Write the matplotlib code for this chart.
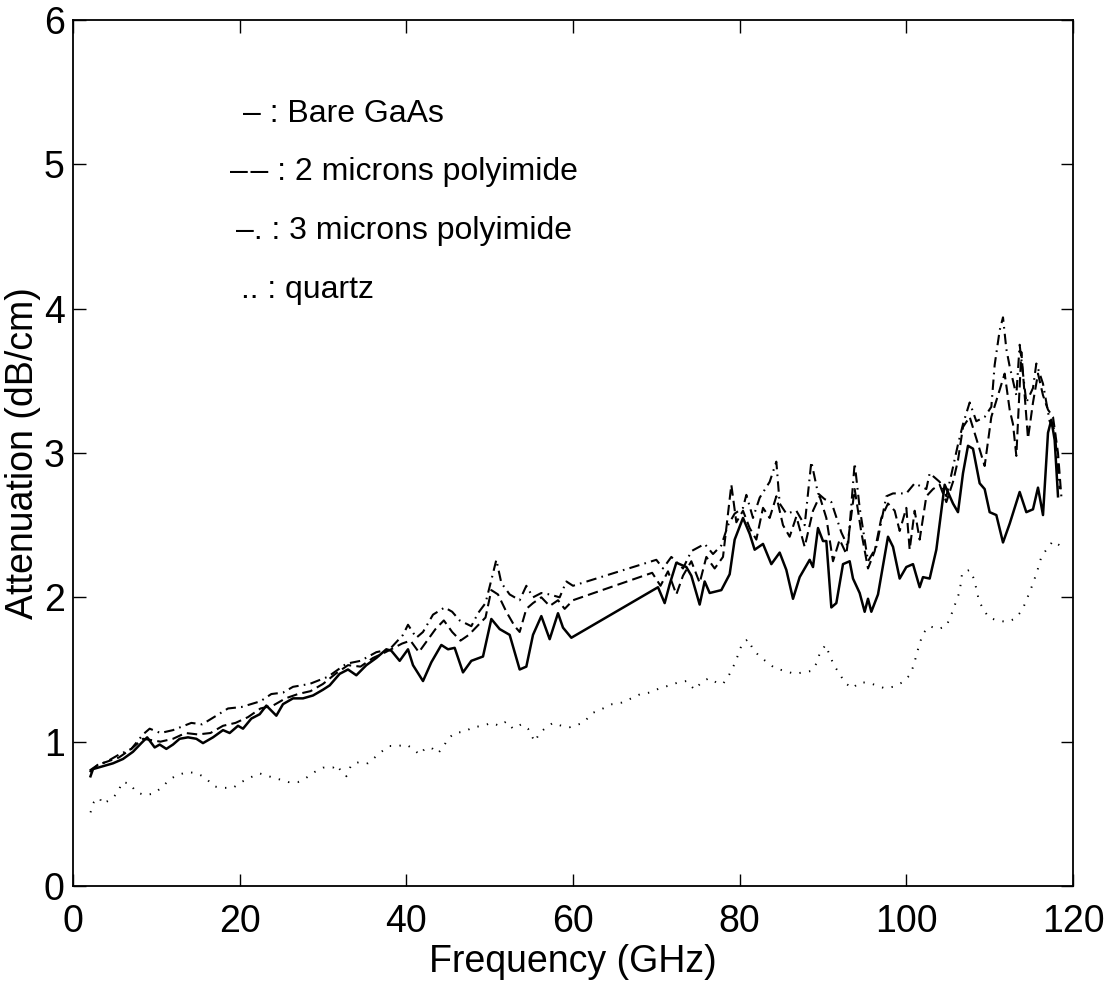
import matplotlib
matplotlib.use("Agg")
import matplotlib.pyplot as plt

plt.rcParams["font.family"] = ["Liberation Sans", "DejaVu Sans"]

# ---- data ----
# bare GaAs (solid)
f_gaas = [2.1, 2.4, 3.6, 4.8, 6.0, 7.2, 8.2, 8.9, 9.8, 10.4, 11.2, 12.0, 12.8, 13.8,
          14.8, 15.6, 16.8, 18.0, 18.8, 19.8, 20.4, 21.4, 22.4, 23.2, 24.4, 25.2,
          26.4, 27.6, 28.8, 30.0, 30.8, 32.0, 33.0, 34.0, 35.2, 36.4, 37.6, 38.2,
          39.2, 40.2, 40.8, 42.0, 43.0, 44.2, 45.0, 45.8, 46.8, 47.8, 49.2, 50.2,
          51.2, 52.4, 53.6, 54.4, 55.2, 56.2, 57.2, 58.2, 58.8, 59.8, 70.2, 71.0,
          71.6, 72.4, 73.6, 74.2, 75.2, 75.8, 76.4, 77.8, 78.8, 79.4, 80.4, 81.2,
          81.8, 82.8, 83.8, 84.8, 85.6, 86.4, 87.2, 88.4, 88.8, 89.4, 90.0, 90.4,
          91.0, 91.6, 92.4, 93.2, 93.6, 94.4, 95.0, 95.4, 95.8, 96.6, 97.8, 98.4,
          99.2, 100.0, 100.8, 101.6, 102.0, 102.8, 103.6, 104.6, 105.6, 106.2,
          106.8, 107.4, 108.0, 108.8, 109.4, 110.0, 110.8, 111.6, 112.4, 113.6,
          114.4, 115.2, 115.8, 116.4, 117.0, 117.4, 117.8, 118.2]
a_gaas = [0.76, 0.81, 0.83, 0.85, 0.88, 0.93, 0.99, 1.03, 0.96, 0.98, 0.95, 0.98,
          1.02, 1.03, 1.02, 0.99, 1.03, 1.08, 1.06, 1.11, 1.09, 1.16, 1.19, 1.25,
          1.18, 1.26, 1.30, 1.30, 1.32, 1.36, 1.39, 1.47, 1.50, 1.46, 1.53, 1.58,
          1.64, 1.63, 1.56, 1.64, 1.53, 1.42, 1.55, 1.67, 1.64, 1.65, 1.48, 1.56,
          1.59, 1.85, 1.78, 1.74, 1.50, 1.52, 1.74, 1.87, 1.71, 1.89, 1.79, 1.72,
          2.07, 1.96, 2.09, 2.24, 2.21, 2.15, 1.95, 2.11, 2.03, 2.05, 2.16, 2.40,
          2.55, 2.44, 2.33, 2.37, 2.23, 2.31, 2.19, 1.99, 2.14, 2.26, 2.21, 2.48,
          2.39, 2.39, 1.93, 1.96, 2.23, 2.25, 2.13, 2.03, 1.90, 1.99, 1.90, 2.02,
          2.42, 2.35, 2.13, 2.21, 2.23, 2.07, 2.14, 2.13, 2.33, 2.78, 2.65, 2.59,
          2.86, 3.05, 3.03, 2.79, 2.75, 2.59, 2.57, 2.38, 2.51, 2.73, 2.59, 2.61,
          2.76, 2.57, 3.14, 3.23, 3.09, 2.70]

# 2 microns polyimide (dashed)
f_pi2 = [2.0, 3.0, 4.0, 5.5, 7.0, 8.4, 9.5, 10.5, 12.0, 13.5, 15.0, 16.5, 18.0,
         19.5, 21.0, 22.5, 24.0, 25.5, 27.0, 28.5, 30.0, 31.5, 33.0, 34.5, 36.0,
         37.5, 38.5, 39.5, 40.5, 41.5, 42.5, 43.5, 44.5, 45.5, 46.5, 47.5, 48.5,
         49.5, 50.2, 51.0, 52.0, 53.0, 53.6, 54.4, 55.2, 56.2, 57.2, 58.2, 59.0,
         60.0, 69.5, 70.5, 71.4, 72.4, 73.2, 74.2, 75.2, 76.0, 77.0, 78.0, 79.0,
         79.6, 80.4, 81.2, 82.0, 82.8, 83.6, 84.4, 85.2, 86.0, 86.8, 87.8, 88.8,
         89.6, 90.4, 91.2, 92.0, 92.8, 93.8, 94.6, 95.4, 96.2, 97.0, 97.8, 98.6,
         99.2, 100.0, 100.4, 101.0, 101.6, 102.4, 103.2, 104.0, 104.8, 105.6,
         106.2, 106.8, 107.6, 108.4, 109.4, 110.2, 111.0, 111.8, 112.4, 112.8,
         113.2, 113.8, 114.6, 115.2, 115.8, 116.4, 117.0, 117.6, 118.2, 118.6]
a_pi2 = [0.79, 0.84, 0.86, 0.89, 0.95, 1.02, 1.01, 1.00, 1.02, 1.06, 1.05, 1.06,
         1.11, 1.13, 1.17, 1.23, 1.25, 1.30, 1.33, 1.35, 1.40, 1.47, 1.53, 1.52,
         1.58, 1.62, 1.65, 1.68, 1.70, 1.62, 1.70, 1.78, 1.84, 1.76, 1.70, 1.74,
         1.80, 1.86, 2.05, 2.02, 1.90, 1.80, 1.76, 1.92, 1.96, 2.00, 1.94, 1.98,
         1.92, 1.98, 2.17, 2.08, 2.18, 2.02, 2.15, 2.25, 2.10, 2.28, 2.20, 2.28,
         2.78, 2.52, 2.60, 2.48, 2.40, 2.62, 2.55, 2.70, 2.50, 2.42, 2.56, 2.35,
         2.60, 2.70, 2.55, 2.25, 2.40, 2.30, 2.75, 2.45, 2.20, 2.32, 2.55, 2.65,
         2.60, 2.46, 2.62, 2.33, 2.60, 2.40, 2.70, 2.75, 2.78, 2.66, 2.80, 2.95,
         3.18, 3.25, 3.10, 2.91, 3.25, 3.40, 3.55, 3.30, 3.20, 2.98, 3.70, 3.10,
         3.35, 3.55, 3.40, 3.30, 3.25, 3.00, 2.70]

# 3 microns polyimide (dash-dot)
f_pi3 = [2.0, 3.0, 4.0, 5.5, 7.0, 8.4, 9.2, 10.5, 12.0, 14.2, 15.5, 17.2, 18.6,
         20.2, 22.5, 23.8, 25.2, 26.4, 28.4, 30.6, 32.8, 34.5, 36.4, 38.0, 39.6,
         40.2, 41.2, 42.0, 43.2, 44.6, 45.5, 46.4, 47.8, 48.6, 49.5, 50.2, 50.8,
         51.4, 52.4, 53.6, 54.4, 55.2, 56.2, 57.2, 58.4, 59.2, 60.0, 70.0, 70.8,
         71.8, 73.2, 74.2, 75.8, 76.8, 77.8, 78.6, 79.4, 80.4, 80.8, 81.6, 82.4,
         83.6, 84.4, 84.8, 85.6, 86.8, 87.8, 88.6, 89.4, 90.2, 91.0, 92.2, 93.0,
         93.8, 94.4, 95.4, 96.4, 97.6, 98.4, 100.0, 101.0, 102.4, 102.8, 104.0,
         104.8, 105.4, 106.2, 106.8, 107.6, 108.4, 109.4, 110.2, 110.6, 111.2,
         111.6, 112.0, 112.4, 113.2, 113.6, 114.4, 115.2, 115.6, 116.4, 117.2,
         117.8, 118.4]
a_pi3 = [0.80, 0.84, 0.86, 0.91, 0.95, 1.05, 1.09, 1.06, 1.08, 1.13, 1.12, 1.18,
         1.23, 1.24, 1.28, 1.33, 1.34, 1.38, 1.40, 1.45, 1.54, 1.56, 1.62, 1.64,
         1.74, 1.81, 1.72, 1.76, 1.88, 1.93, 1.90, 1.84, 1.80, 1.89, 1.96, 2.12,
         2.26, 2.10, 2.02, 1.98, 2.08, 2.00, 2.03, 2.02, 2.00, 2.11, 2.08, 2.26,
         2.20, 2.28, 2.20, 2.32, 2.37, 2.30, 2.36, 2.50, 2.58, 2.62, 2.71, 2.55,
         2.69, 2.80, 2.94, 2.65, 2.58, 2.60, 2.50, 2.94, 2.72, 2.68, 2.66, 2.45,
         2.35, 2.93, 2.62, 2.25, 2.35, 2.70, 2.72, 2.72, 2.79, 2.75, 2.86, 2.80,
         2.70, 2.85, 3.06, 3.20, 3.35, 3.22, 3.25, 3.32, 3.61, 3.85, 3.94, 3.72,
         3.60, 3.40, 3.75, 3.35, 3.45, 3.62, 3.48, 3.22, 3.16, 2.75]

# quartz (dotted)
f_qz = [2.1, 2.5, 3.2, 3.5, 4.6, 5.4, 5.9, 6.8, 7.6, 8.6, 9.7, 10.8, 11.6, 12.6,
        13.8, 14.9, 15.9, 16.9, 18.0, 19.2, 20.2, 21.2, 22.4, 23.5, 24.7, 25.8,
        27.0, 28.0, 29.0, 30.0, 31.2, 31.6, 32.4, 32.8, 33.4, 34.4, 35.4, 36.2,
        37.0, 38.0, 39.0, 40.0, 40.8, 41.6, 42.2, 42.6, 43.2, 43.8, 44.4, 45.0,
        45.8, 47.0, 48.0, 49.2, 50.2, 51.2, 52.0, 52.8, 53.8, 54.6, 55.4, 56.0,
        56.8, 57.6, 58.6, 59.6, 61.2, 62.4, 63.6, 64.7, 65.8, 67.0, 68.1, 69.2,
        70.4, 71.6, 72.6, 73.6, 74.6, 75.4, 76.3, 77.2, 78.0, 78.8, 79.4, 79.8,
        80.3, 81.0, 81.6, 82.4, 83.3, 84.2, 85.4, 86.6, 87.6, 88.6, 89.2, 89.6,
        90.3, 90.8, 91.3, 92.0, 92.6, 93.5, 94.4, 95.4, 96.4, 97.4, 98.4, 99.5,
        100.4, 100.9, 101.2, 101.6, 102.0, 102.8, 103.8, 104.8, 105.4, 105.9,
        106.4, 106.7, 107.6, 108.1, 108.4, 108.7, 109.2, 109.9, 110.9, 112.0,
        113.0, 113.9, 114.4, 114.9, 115.4, 115.8, 116.2, 116.8, 117.6, 118.4]
a_qz = [0.51, 0.58, 0.61, 0.57, 0.60, 0.65, 0.72, 0.71, 0.65, 0.63, 0.64, 0.69,
        0.74, 0.77, 0.79, 0.78, 0.75, 0.69, 0.68, 0.68, 0.72, 0.75, 0.78, 0.76,
        0.74, 0.72, 0.72, 0.75, 0.79, 0.82, 0.82, 0.84, 0.78, 0.76, 0.84, 0.86,
        0.85, 0.89, 0.93, 0.97, 0.97, 0.98, 0.95, 0.91, 0.95, 0.96, 0.95, 0.92,
        0.96, 1.02, 1.06, 1.07, 1.10, 1.11, 1.13, 1.11, 1.14, 1.09, 1.12, 1.09,
        1.00, 1.06, 1.10, 1.13, 1.11, 1.10, 1.13, 1.20, 1.23, 1.26, 1.27, 1.30,
        1.33, 1.34, 1.37, 1.39, 1.41, 1.42, 1.36, 1.41, 1.44, 1.41, 1.40, 1.47,
        1.54, 1.60, 1.68, 1.71, 1.64, 1.59, 1.55, 1.51, 1.49, 1.47, 1.48, 1.49,
        1.54, 1.61, 1.67, 1.60, 1.53, 1.47, 1.41, 1.37, 1.41, 1.41, 1.39, 1.37,
        1.38, 1.41, 1.46, 1.53, 1.60, 1.68, 1.75, 1.80, 1.78, 1.80, 1.88, 1.96,
        2.04, 2.17, 2.19, 2.13, 2.06, 1.98, 1.92, 1.86, 1.84, 1.83, 1.85, 1.91,
        1.98, 2.05, 2.13, 2.20, 2.28, 2.33, 2.39, 2.36]

legend_lines = ["\u2013 : Bare GaAs", "\u2013\u200a\u2013 : 2 microns polyimide",
                "\u2013. : 3 microns polyimide", ".. : quartz"]
x_ticks = [0, 20, 40, 60, 80, 100, 120]
y_ticks = [0, 1, 2, 3, 4, 5, 6]

fig = plt.figure(figsize=(11.12, 9.88), dpi=100)
ax = fig.add_axes([73 / 1112, 1 - 886 / 988, 1000 / 1112, 866 / 988])

ax.plot(f_gaas, a_gaas, color="black", lw=1.8, ls="-")
ax.plot(f_pi2, a_pi2, color="black", lw=1.5, ls=(0, (5, 2.5)))
ax.plot(f_pi3, a_pi3, color="black", lw=1.5, ls=(0, (5, 2.5, 0.8, 2.5)))
ax.plot(f_qz, a_qz, color="black", lw=1.4, ls=(0, (0.7, 4.3)))

ax.set_xlim(0, 120)
ax.set_ylim(0, 6)
ax.set_xticks(x_ticks)
ax.set_yticks(y_ticks)
ax.tick_params(direction="in", length=9, width=1, top=True, right=True,
               labelsize=27)
ax.tick_params(axis="y", pad=6)
ax.tick_params(axis="x", pad=13)
for side in ax.spines.values():
    side.set_linewidth(1.3)
ax.set_xlabel("Frequency (GHz)", fontsize=27, labelpad=3)
ax.set_ylabel("Attenuation (dB/cm)", fontsize=27, labelpad=2)

# hand-written legend as in the original figure
legend_x = [20.4, 18.9, 19.6, 20.2]
legend_y = [5.35, 4.95, 4.54, 4.13]
for tx, ty, txt in zip(legend_x, legend_y, legend_lines):
    ax.text(tx, ty, txt, fontsize=23, va="center", ha="left")

fig.savefig("out.png", dpi=100)
